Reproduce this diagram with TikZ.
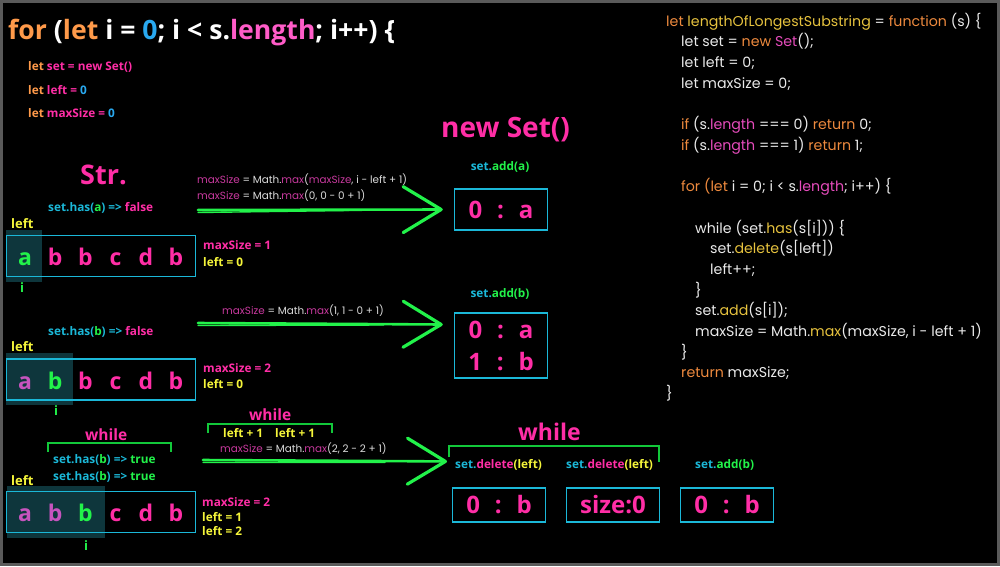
\documentclass[tikz,border=0pt]{standalone}
\usepackage{fontspec}
\setmainfont{Open Sans}
\newfontfamily\codefont{Poppins}
\usetikzlibrary{arrows.meta}

\definecolor{hotpink}{HTML}{FF2EA6}
\definecolor{lightpink}{HTML}{FF5CC8}
\definecolor{jsorange}{HTML}{FF9A4A}
\definecolor{jsblue}{HTML}{29A9F0}
\definecolor{cyanline}{HTML}{1BB8D8}
\definecolor{brightgreen}{HTML}{22F24A}
\definecolor{bracketgreen}{HTML}{12C83A}
\definecolor{yellowtxt}{HTML}{F5F53A}
\definecolor{visited}{HTML}{C654BE}
\definecolor{cellshade}{HTML}{0E363C}
\definecolor{mathpink}{HTML}{C8399E}
\definecolor{mathgray}{HTML}{DCDCDC}
\definecolor{codewhite}{HTML}{EAEAEA}
\definecolor{codeorange}{HTML}{EE8A3E}
\definecolor{codegold}{HTML}{E6C23E}
\definecolor{codepink}{HTML}{E64CBC}
\definecolor{framegray}{HTML}{5A5A5A}

\newcommand{\jsor}[1]{\textcolor{jsorange}{#1}}
\newcommand{\jspk}[1]{\textcolor{hotpink}{#1}}
\newcommand{\jscy}[1]{\textcolor{cyanline}{#1}}
\newcommand{\jsgr}[1]{\textcolor{brightgreen}{#1}}
\newcommand{\jsyl}[1]{\textcolor{yellowtxt}{#1}}
\newcommand{\jsbl}[1]{\textcolor{jsblue}{#1}}
\newcommand{\mxpk}[1]{\textcolor{mathpink}{#1}}
\newcommand{\cdor}[1]{\textcolor{codeorange}{#1}}
\newcommand{\cdgd}[1]{\textcolor{codegold}{#1}}
\newcommand{\cdpk}[1]{\textcolor{codepink}{#1}}
\newcommand{\kvgap}{\hspace{0.62em}}

\begin{document}
\begin{tikzpicture}[x=1pt, y=-1pt,
  txt/.style={anchor=base west, inner sep=0pt, font=\bfseries\fontsize{11.8}{14}\selectfont},
  big/.style={txt, text=hotpink, font=\bfseries\fontsize{27}{32}\selectfont},
  small/.style={txt, font=\bfseries\fontsize{13}{16}\selectfont},
  mathline/.style={anchor=base west, inner sep=0pt, text=mathgray, font=\codefont\fontsize{10.4}{12}\selectfont},
  codeline/.style={anchor=base west, inner sep=0pt, text=codewhite, font=\codefont\fontsize{14.2}{17}\selectfont},
  strbox/.style={draw=cyanline, line width=1.5pt, minimum width=189pt, minimum height=41pt, inner sep=0pt},
  setbox/.style={draw=cyanline, line width=1.5pt, minimum width=93pt, minimum height=34pt, inner sep=0pt,
    text=hotpink, font=\bfseries\fontsize{24}{32}\selectfont},
  letter/.style={anchor=base, inner sep=0pt, font=\bfseries\fontsize{23}{28}\selectfont},
  hand/.style={brightgreen, line width=2.6pt, line cap=round,
    -{Straight Barb[length=38pt, width=46pt, line width=3.2pt, round]}},
  handtrail/.style={brightgreen, line width=1.4pt, line cap=round},
  brk/.style={draw=bracketgreen, line width=1.4pt},
]
  \useasboundingbox (0,0) rectangle (1000,566);
  \fill[black] (0,0) rectangle (1000,566);
  \draw[framegray, line width=3pt] (1.5,1.5) rectangle (998.5,564.5);

  \node[txt, text=white, font=\bfseries\fontsize{26.6}{30}\selectfont] (title) at (8,39)
    {\jsor{for} (\jsor{let} i = \jsbl{0}; i < s.\textcolor{lightpink}{length}; i++) \{};
  \node[txt] (initset)  at (28,70)  {\jsor{let} \jspk{set = new Set()}};
  \node[txt] (initleft) at (28,94)  {\jsor{let} \jspk{left =} \jsbl{0}};
  \node[txt] (initmax)  at (28,117) {\jsor{let} \jspk{maxSize =} \jsbl{0}};

  \node[big] (strlabel) at (80,184) {Str.};
  \node[big, font=\bfseries\fontsize{28}{32}\selectfont] (newset) at (441,137) {new Set()};

  % first pass: a
  \node[txt] (has1) at (48,211) {\jscy{set.has(}\jsgr{a}\jscy{) =>} \jspk{false}};
  \node[small, text=yellowtxt] (left1) at (11,228) {left};
  \fill[cellshade] (6,230) rectangle (42,282);
  \node[strbox] (str1) at (101,256) {};
  \foreach \ch/\col [count=\k from 0] in {a/brightgreen, b/hotpink, b/hotpink, c/hotpink, d/hotpink, b/hotpink}
    \node[letter, text=\col] (r1\k) at (25+30.2*\k, 265) {\ch};
  \node[small, anchor=base, text=brightgreen] (i1) at (22,292) {i};
  \node[txt, text=hotpink] (max1) at (203,249) {maxSize = 1};
  \node[txt, text=yellowtxt] (lft1) at (203,266) {left = 0};

  \node[mathline] (calc1a) at (197,183) {\mxpk{maxSize} = Math.\mxpk{max}(\mxpk{maxSize}, i - left + 1)};
  \node[mathline] (calc1b) at (197,199) {\mxpk{maxSize} = Math.\mxpk{max}(0, 0 - 0 + 1)};

  \node[txt, anchor=base] (add1) at (500,170) {\jscy{set.}\jsgr{add(a)}};
  \node[setbox, minimum height=41pt] (set1) at (501,209.5) {0\kvgap:\kvgap a};

  \coordinate (from1) at (198,210);
  \draw[handtrail] ([yshift=-2.5pt]from1) -- ([xshift=-70pt, yshift=-0.5pt]set1.west);
  \draw[hand] (from1) -- ([xshift=-11pt]set1.west);

  % second pass: b
  \node[txt] (has2) at (48,335) {\jscy{set.has(}\jsgr{b}\jscy{) =>} \jspk{false}};
  \node[small, text=yellowtxt] (left2) at (11,351) {left};
  \fill[cellshade] (6,353) rectangle (73,405);
  \node[strbox] (str2) at (101,379.5) {};
  \foreach \ch/\col [count=\k from 0] in {a/visited, b/brightgreen, b/hotpink, c/hotpink, d/hotpink, b/hotpink}
    \node[letter, text=\col] (r2\k) at (25+30.2*\k, 389) {\ch};
  \node[small, anchor=base, text=brightgreen] (i2) at (56,415) {i};
  \node[txt, text=hotpink] (max2) at (203,372) {maxSize = 2};
  \node[txt, text=yellowtxt] (lft2) at (203,388) {left = 0};

  \node[mathline] (calc2) at (222,314) {\mxpk{maxSize} = Math.\mxpk{max}(1, 1 - 0 + 1)};

  \node[txt, anchor=base] (add2) at (500,297) {\jscy{set.}\jsgr{add(b)}};
  \node[setbox, minimum height=65pt, align=center] (set2) at (501,345.5)
    {0\kvgap:\kvgap a\\1\kvgap:\kvgap b};

  \coordinate (from2) at (198,323);
  \draw[handtrail] ([yshift=-2.5pt]from2) -- ([xshift=-70pt, yshift=20.5pt]set2.west);
  \draw[hand] (from2) -- ([xshift=-11pt, yshift=21pt]set2.west);

  % third pass: b again
  \node[txt, text=hotpink, font=\bfseries\fontsize{15.5}{18}\selectfont] (while1) at (85,440) {while};
  \draw[brk] (48,452) |- (171,443) -- (171,452);
  \node[txt] (has3a) at (53,463) {\jscy{set.has(}\jsgr{b}\jscy{) =>} \jsgr{true}};
  \node[txt] (has3b) at (53,480) {\jscy{set.has(}\jsgr{b}\jscy{) =>} \jsgr{true}};
  \node[small, text=yellowtxt] (left3) at (11,485) {left};
  \fill[cellshade] (7,486) rectangle (105,538);
  \node[strbox] (str3) at (101,512) {};
  \foreach \ch/\col [count=\k from 0] in {a/visited, b/visited, b/brightgreen, c/hotpink, d/hotpink, b/hotpink}
    \node[letter, text=\col] (r3\k) at (25+30.2*\k, 521) {\ch};
  \node[small, anchor=base, text=brightgreen] (i3) at (86,550) {i};
  \node[txt, text=hotpink] (max3) at (202,506) {maxSize = 2};
  \node[txt, text=yellowtxt] (lft3a) at (202,521) {left = 1};
  \node[txt, text=yellowtxt] (lft3b) at (202,535) {left = 2};

  \node[txt, text=hotpink, font=\bfseries\fontsize{15.5}{18}\selectfont] (while2) at (249,420) {while};
  \draw[brk] (208,433) |- (332,424) -- (332,433);
  \node[txt, text=yellowtxt] (inc1) at (223,437) {left + 1};
  \node[txt, text=yellowtxt] (inc2) at (275,437) {left + 1};
  \node[mathline] (calc3) at (220,452) {\mxpk{maxSize} = Math.\mxpk{max}(2, 2 - 2 + 1)};

  \node[txt, text=hotpink, font=\bfseries\fontsize{23}{28}\selectfont] (while3) at (518,440) {while};
  \draw[brk] (449,457) |- (659,446) -- (659,462);
  \node[txt] (dellbl1) at (455,468) {\jscy{set.}\jspk{delete}\jsyl{(left)}};
  \node[txt] (dellbl2) at (566,468) {\jscy{set.}\jspk{delete}\jsyl{(left)}};
  \node[txt] (addlbl3) at (695,468) {\jscy{set.}\jsgr{add(b)}};
  \node[setbox] (del1) at (499,505) {0\kvgap:\kvgap b};
  \node[setbox] (del2) at (613,505) {size:0};
  \node[setbox] (add3) at (727,505) {0\kvgap:\kvgap b};

  \coordinate (from3) at (203,460);
  \draw[handtrail] ([yshift=-2.5pt]from3) -- ([xshift=-70pt, yshift=2pt]dellbl1.west);
  \draw[hand] (from3) -- ([xshift=-8pt, yshift=3pt]dellbl1.west);

  % source code
  \node[codeline] (c0)  at (666,26)    {\cdor{let} \cdgd{lengthOfLongestSubstring} = \cdor{function} (s) \{};
  \node[codeline] (c1)  at (681,46.7)  {let set = \cdor{new} \cdpk{Set}();};
  \node[codeline] (c2)  at (681,67.4)  {let left = 0;};
  \node[codeline] (c3)  at (681,88.1)  {let maxSize = 0;};
  \node[codeline] (c5)  at (681,129.5) {\cdor{if} (s.\cdpk{length} === 0) \cdor{return} 0;};
  \node[codeline] (c6)  at (681,150.2) {\cdor{if} (s.\cdpk{length} === 1) \cdor{return} 1;};
  \node[codeline] (c8)  at (681,191.6) {\cdor{for (let} i = 0; i < s.\cdpk{length}; i++) \{};
  \node[codeline] (c10) at (695,233)   {while (set.\cdgd{has}(s[i])) \{};
  \node[codeline] (c11) at (710,253.7) {set.\cdgd{delete}(s[left])};
  \node[codeline] (c12) at (710,274.4) {left++;};
  \node[codeline] (c13) at (695,295.1) {\}};
  \node[codeline] (c14) at (695,315.8) {set.\cdgd{add}(s[i]);};
  \node[codeline] (c15) at (695,336.5) {maxSize = Math.\cdgd{max}(maxSize, i - left + 1)};
  \node[codeline] (c16) at (681,357.2) {\}};
  \node[codeline] (c17) at (681,377.9) {\cdor{return} maxSize;};
  \node[codeline] (c18) at (666,398.6) {\}};
\end{tikzpicture}
\end{document}
